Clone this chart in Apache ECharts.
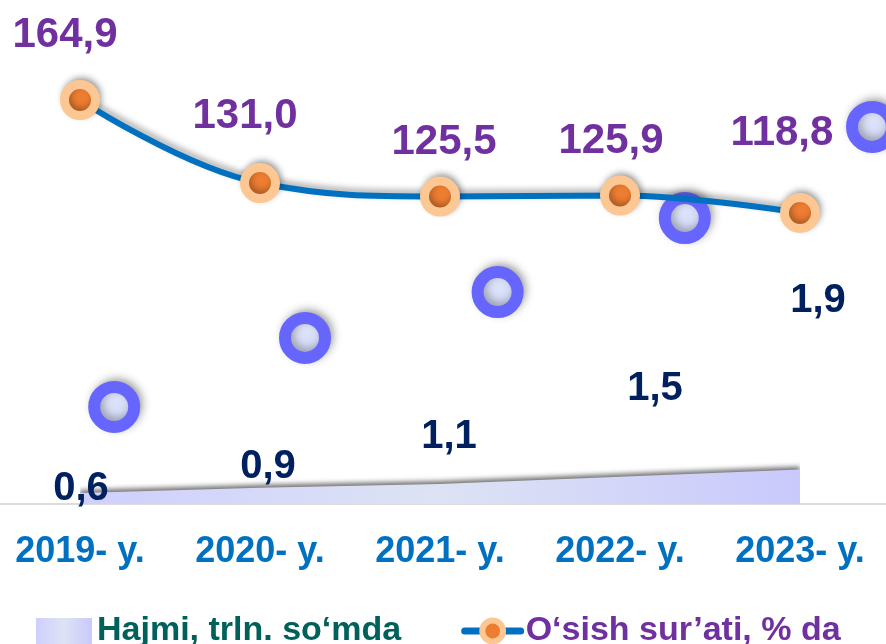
<!DOCTYPE html>
<html lang="uz">
<head>
   <meta charset="UTF-8">
   <script src="https://cdnjs.cloudflare.com/ajax/libs/echarts/6.0.0/echarts.min.js"></script>
   <title>Hajmi va o'sish sur'ati</title>
   <style>
      html, body { margin: 0; padding: 0; background: #fff; }
      #container { width: 886px; height: 644px; }
   </style>
</head>
<body>
   <div id="container"></div>
   <script>
      // data
      var years = ['2019- y.', '2020- y.', '2021- y.', '2022- y.', '2023- y.'];
      var volume = [0.6, 0.9, 1.1, 1.5, 1.9];          // Hajmi, trln. so'mda
      var growth = [164.9, 131.0, 125.5, 125.9, 118.8];  // O'sish sur'ati, % da
      // decorative bubbles (x in category units, y on the % axis)
      var bubbleX = [0.19, 1.25, 2.32, 3.36, 4.40];
      var bubbleY = [39.6, 67.8, 86.5, 116.7, 153.9];

      // label placement, kept apart from the data
      var growthLabelOffset = [[-15, -65], [-15, -67], [4, -54], [-9, -54], [-18, -80]];
      var volumeLabelOffset = [[1, -4], [8, -21], [9, -47], [35, -88], [18, -169]];

      var fmt = function (v) { return String(v.toFixed(1)).replace('.', ','); };
      var font = 'Liberation Sans, Arial, sans-serif';

      var chart = echarts.init(document.getElementById('container'));

      var areaFill = new echarts.graphic.LinearGradient(0, 0, 1, 0, [
         { offset: 0, color: '#cfcffd' },
         { offset: 0.5, color: '#dde3f4' },
         { offset: 1, color: '#c9c9fc' }
      ]);

      var option = {
         animation: false,
         grid: [
            // plot area: first and last year sit 80px / 86px in from the edges
            { left: 80, right: 86, top: 14, bottom: 140 },
            // full-width grid only for the baseline
            { left: 0, right: 0, top: 14, bottom: 140 }
         ],
         legend: {
            left: 36,
            top: 614,
            padding: 0,
            itemGap: 60,
            itemWidth: 56,
            itemHeight: 26,
            textStyle: { fontFamily: font, fontWeight: 'bold', fontSize: 34 },
            data: [
               { name: 'Hajmi, trln. so‘mda', icon: 'rect',
                 itemStyle: { color: areaFill, borderWidth: 0, shadowBlur: 0 },
                 textStyle: { color: '#00615a' } },
               { name: 'O‘sish sur’ati, % da',
                 lineStyle: { width: 7, color: '#0070c0', shadowBlur: 0, cap: 'round' },
                 itemStyle: { shadowBlur: 0, borderWidth: 6 },
                 textStyle: { color: '#7030a0' } }
            ]
         },
         xAxis: [
            {
               type: 'category',
               gridIndex: 0,
               data: years,
               boundaryGap: false,
               axisLine: { show: false },
               axisTick: { show: false },
               axisLabel: { color: '#0070c0', fontFamily: font, fontWeight: 'bold', fontSize: 36, margin: 30 }
            },
            { type: 'value', gridIndex: 0, min: 0, max: 4, show: false },
            {
               type: 'value', gridIndex: 1, min: 0, max: 1,
               axisLine: { show: true, lineStyle: { color: '#d0d0d0', width: 1.5 } },
               axisTick: { show: false }, axisLabel: { show: false }, splitLine: { show: false }
            }
         ],
         yAxis: [
            { type: 'value', gridIndex: 0, min: 0, max: 27, show: false, splitLine: { show: false } },
            { type: 'value', gridIndex: 0, min: 0, max: 200, show: false, splitLine: { show: false } },
            { type: 'value', gridIndex: 1, min: 0, max: 1, show: false, splitLine: { show: false } }
         ],
         series: [
            {
               name: 'Hajmi, trln. so‘mda',
               type: 'line',
               data: volume,
               symbol: 'circle',
               symbolSize: 1,
               itemStyle: { color: 'rgba(0,0,0,0)' },
               lineStyle: { width: 0 },
               areaStyle: {
                  color: areaFill,
                  opacity: 1,
                  shadowColor: 'rgba(0,0,0,0.55)',
                  shadowBlur: 5,
                  shadowOffsetY: -3
               },
               label: {
                  show: true,
                  position: 'inside',
                  color: '#002060',
                  fontFamily: font,
                  fontWeight: 'bold',
                  fontSize: 40,
                  formatter: function (p) { return fmt(p.value); }
               },
               labelLayout: function (p) {
                  var o = volumeLabelOffset[p.dataIndex];
                  return { dx: o[0], dy: o[1] };
               },
               z: 2
            },
            {
               name: 'decor',
               type: 'scatter',
               xAxisIndex: 1,
               yAxisIndex: 1,
               clip: false,
               data: bubbleX.map(function (x, i) { return [x, bubbleY[i]]; }),
               symbol: 'circle',
               symbolSize: 40,
               itemStyle: {
                  color: new echarts.graphic.LinearGradient(0, 0, 1, 1, [
                     { offset: 0, color: '#e8eeff' },
                     { offset: 1, color: '#ccd3f4' }
                  ]),
                  borderColor: '#6666ff',
                  borderWidth: 12,
                  opacity: 1,
                  shadowColor: 'rgba(0,0,0,0.3)',
                  shadowBlur: 8,
                  shadowOffsetX: 3,
                  shadowOffsetY: -3
               },
               silent: true,
               z: 3
            },
            {
               name: 'O‘sish sur’ati, % da',
               type: 'line',
               yAxisIndex: 1,
               data: growth,
               smooth: 0.4,
               symbol: 'circle',
               symbolSize: 31,
               lineStyle: {
                  color: '#0070c0',
                  width: 6,
                  shadowColor: 'rgba(0,0,0,0.35)',
                  shadowBlur: 6,
                  shadowOffsetX: 2,
                  shadowOffsetY: -3
               },
               itemStyle: {
                  color: '#ed7d31',
                  borderColor: '#fcc792',
                  borderWidth: 9,
                  shadowColor: 'rgba(0,0,0,0.3)',
                  shadowBlur: 6,
                  shadowOffsetX: 2,
                  shadowOffsetY: -3
               },
               label: {
                  show: true,
                  position: 'inside',
                  color: '#7030a0',
                  fontFamily: font,
                  fontWeight: 'bold',
                  fontSize: 42,
                  formatter: function (p) { return fmt(p.value); }
               },
               labelLayout: function (p) {
                  var o = growthLabelOffset[p.dataIndex];
                  return { dx: o[0], dy: o[1] };
               },
               z: 4
            }
         ]
      };

      chart.setOption(option);
   </script>
</body>
</html>
